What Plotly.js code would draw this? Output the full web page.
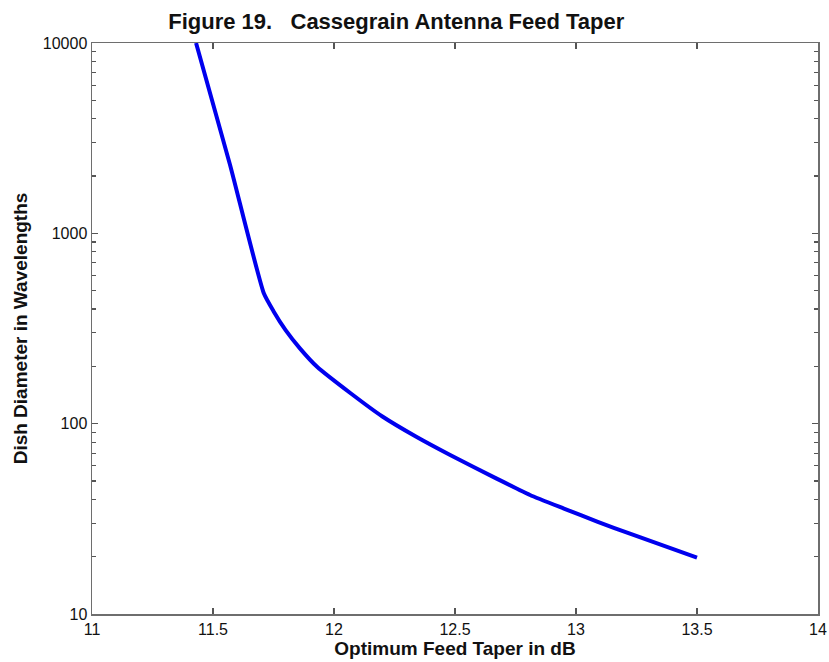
<!DOCTYPE html>
<html>
<head>
<meta charset="utf-8">
<script src="https://cdn.plot.ly/plotly-3.0.1.min.js"></script>
<style>
  html, body { margin: 0; padding: 0; background: #fff; }
  #chart { width: 829px; height: 662px; }
</style>
</head>
<body>
<div id="chart"></div>
<script>
// Optimum feed taper (dB) vs dish diameter (wavelengths)
const feedTaperDb = [11.43, 11.57, 11.71, 11.75, 11.80, 11.86, 11.93, 12.07, 12.20, 12.34, 12.48, 12.67, 12.81, 12.95, 13.09, 13.22, 13.50];
const dishDiameter = [10000, 2300, 484, 390, 310, 248, 199, 144, 109, 85.3, 68.4, 51.6, 42.2, 35.8, 30.5, 26.5, 19.8];

const xTickVals = [11, 11.5, 12, 12.5, 13, 13.5, 14];
const xTickText = ['11', '11.5', '12', '12.5', '13', '13.5', '14'];
const yTickVals = [10, 100, 1000, 10000];
const yTickText = ['10', '100', '1000', '10000'];

const chartTitle = 'Figure 19.&nbsp;&nbsp; Cassegrain Antenna Feed Taper';
const xTitle = 'Optimum Feed Taper in dB';
const yTitle = 'Dish Diameter in Wavelengths';

// minor log ticks 2..9 within each decade
const yMinorVals = [];
for (let i = 0; i < yTickVals.length - 1; i++) {
  for (let k = 2; k <= 9; k++) yMinorVals.push(k * yTickVals[i]);
}

const fontFam = '"Liberation Sans", Arial, sans-serif';
const axisColor = '#6e6e6e';
const tickColor = '#555555';

const trace = {
  x: feedTaperDb,
  y: dishDiameter,
  type: 'scatter',
  mode: 'lines',
  line: { color: '#0000ee', width: 4, shape: 'spline', smoothing: 0.5 },
  hoverinfo: 'skip'
};

// invisible helper trace carrying the minor-tick axis
const minorTrace = {
  x: [feedTaperDb[0]],
  y: [dishDiameter[0]],
  yaxis: 'y2',
  type: 'scatter',
  mode: 'markers',
  marker: { opacity: 0 },
  hoverinfo: 'skip'
};

const layout = {
  width: 829,
  height: 662,
  margin: { l: 92, r: 11, t: 43, b: 48 },
  paper_bgcolor: '#ffffff',
  plot_bgcolor: '#ffffff',
  showlegend: false,
  font: { family: fontFam, color: '#111', size: 14 },
  title: {
    text: chartTitle,
    font: { family: fontFam, size: 22, color: '#111', weight: 'bold' },
    x: 0.478,
    xref: 'container',
    xanchor: 'center',
    y: 0.968,
    yref: 'container',
    yanchor: 'middle'
  },
  xaxis: {
    range: [11, 14],
    tickvals: xTickVals,
    ticktext: xTickText,
    ticks: 'inside',
    ticklen: 6,
    tickwidth: 1.2,
    tickcolor: tickColor,
    showline: true,
    linecolor: axisColor,
    linewidth: 1.5,
    mirror: 'ticks',
    showgrid: false,
    zeroline: false,
    tickfont: { family: fontFam, size: 16, color: '#111' },
    title: {
      text: xTitle,
      font: { family: fontFam, size: 19, color: '#111', weight: 'bold' },
      standoff: 2
    }
  },
  yaxis: {
    type: 'log',
    range: [1, 4],
    tickvals: yTickVals,
    ticktext: yTickText,
    ticks: 'inside',
    ticklen: 6,
    tickwidth: 1.2,
    tickcolor: tickColor,
    showline: true,
    linecolor: axisColor,
    linewidth: 1.5,
    mirror: 'ticks',
    showgrid: false,
    zeroline: false,
    tickfont: { family: fontFam, size: 16, color: '#111' },
    title: {
      text: yTitle,
      font: { family: fontFam, size: 19, color: '#111', weight: 'bold' },
      standoff: 10
    }
  },
  yaxis2: {
    type: 'log',
    range: [1, 4],
    overlaying: 'y',
    side: 'left',
    tickvals: yMinorVals,
    showticklabels: false,
    ticks: 'inside',
    ticklen: 4,
    tickwidth: 1.2,
    tickcolor: tickColor,
    showline: false,
    mirror: 'ticks',
    showgrid: false,
    zeroline: false
  }
};

Plotly.newPlot('chart', [trace, minorTrace], layout, { staticPlot: true, displayModeBar: false });
</script>
</body>
</html>
